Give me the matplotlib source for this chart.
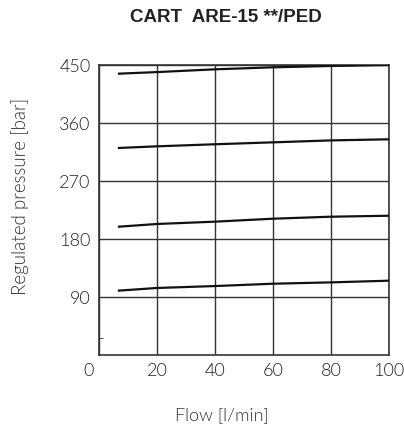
import numpy as np
import matplotlib; matplotlib.use("Agg"); import matplotlib.pyplot as plt
from matplotlib.transforms import ScaledTranslation
from matplotlib import font_manager as fm

# flow [l/min] and regulated pressure [bar]
flow = [6.5, 20, 40, 60, 80, 100]
p_450 = [436.5, 439.0, 443.3, 446.4, 448.5, 450.0]
p_330 = [321.2, 323.8, 327.0, 330.0, 333.0, 334.7]
p_210 = [199.0, 203.3, 206.9, 211.5, 214.6, 216.1]
p_110 = [99.8, 104.0, 107.0, 110.6, 112.7, 115.3]
curves = [p_450, p_330, p_210, p_110]

xticks = [0, 20, 40, 60, 80, 100]
yticks = [90, 180, 270, 360, 450]

print(sorted({(f.name, f.weight, f.stretch) for f in fm.fontManager.ttflist if f.name in ("Lato", "Open Sans", "Roboto", "Inter", "DejaVu Sans", "Noto Sans")}))

FAM = ["Lato", "DejaVu Sans"]
W = 300
fig = plt.figure(figsize=(4.04, 4.30), dpi=100)
ax = fig.add_axes([99/404, 1-355/430, 290/404, 290/430])

for c in curves:
    ax.plot(flow, c, color="#111111", lw=1.6, solid_capstyle="butt", zorder=3)

ax.set_xlim(0, 100); ax.set_ylim(0, 450)
ax.set_xticks(xticks); ax.set_yticks(yticks)
ax.set_yticks([27], minor=True)
ax.grid(True, color="#333333", lw=1.0)
for s in ax.spines.values():
    s.set_color("#333333"); s.set_linewidth(1.2)
ax.tick_params(which="major", length=0, pad=6, labelsize=13, labelcolor="#222222")
ax.tick_params(which="minor", axis="y", direction="in", length=3, color="#333333")
for lab in ax.get_xticklabels() + ax.get_yticklabels():
    lab.set_fontfamily(FAM); lab.set_fontweight(W)
xl = ax.get_xticklabels()
xl[0].set_transform(xl[0].get_transform() + ScaledTranslation(-10/100, 0, fig.dpi_scale_trans))

fig.text(226/404, 1-18/430, "CART  ARE-15 **/PED", ha="center", va="center",
         fontsize=13.5, fontweight="bold", family="Liberation Sans", color="#222222")
fig.text(222/404, 1-415/430, "Flow [l/min]", ha="center", va="center",
         fontsize=13, color="#333333", family=FAM, fontweight=W)
fig.text(20/404, 1-196/430, "Regulated pressure [bar]", ha="center", va="center", rotation=90,
         fontsize=13.5, color="#333333", family=FAM, fontweight=W)

fig.savefig("out.png", dpi=100)
